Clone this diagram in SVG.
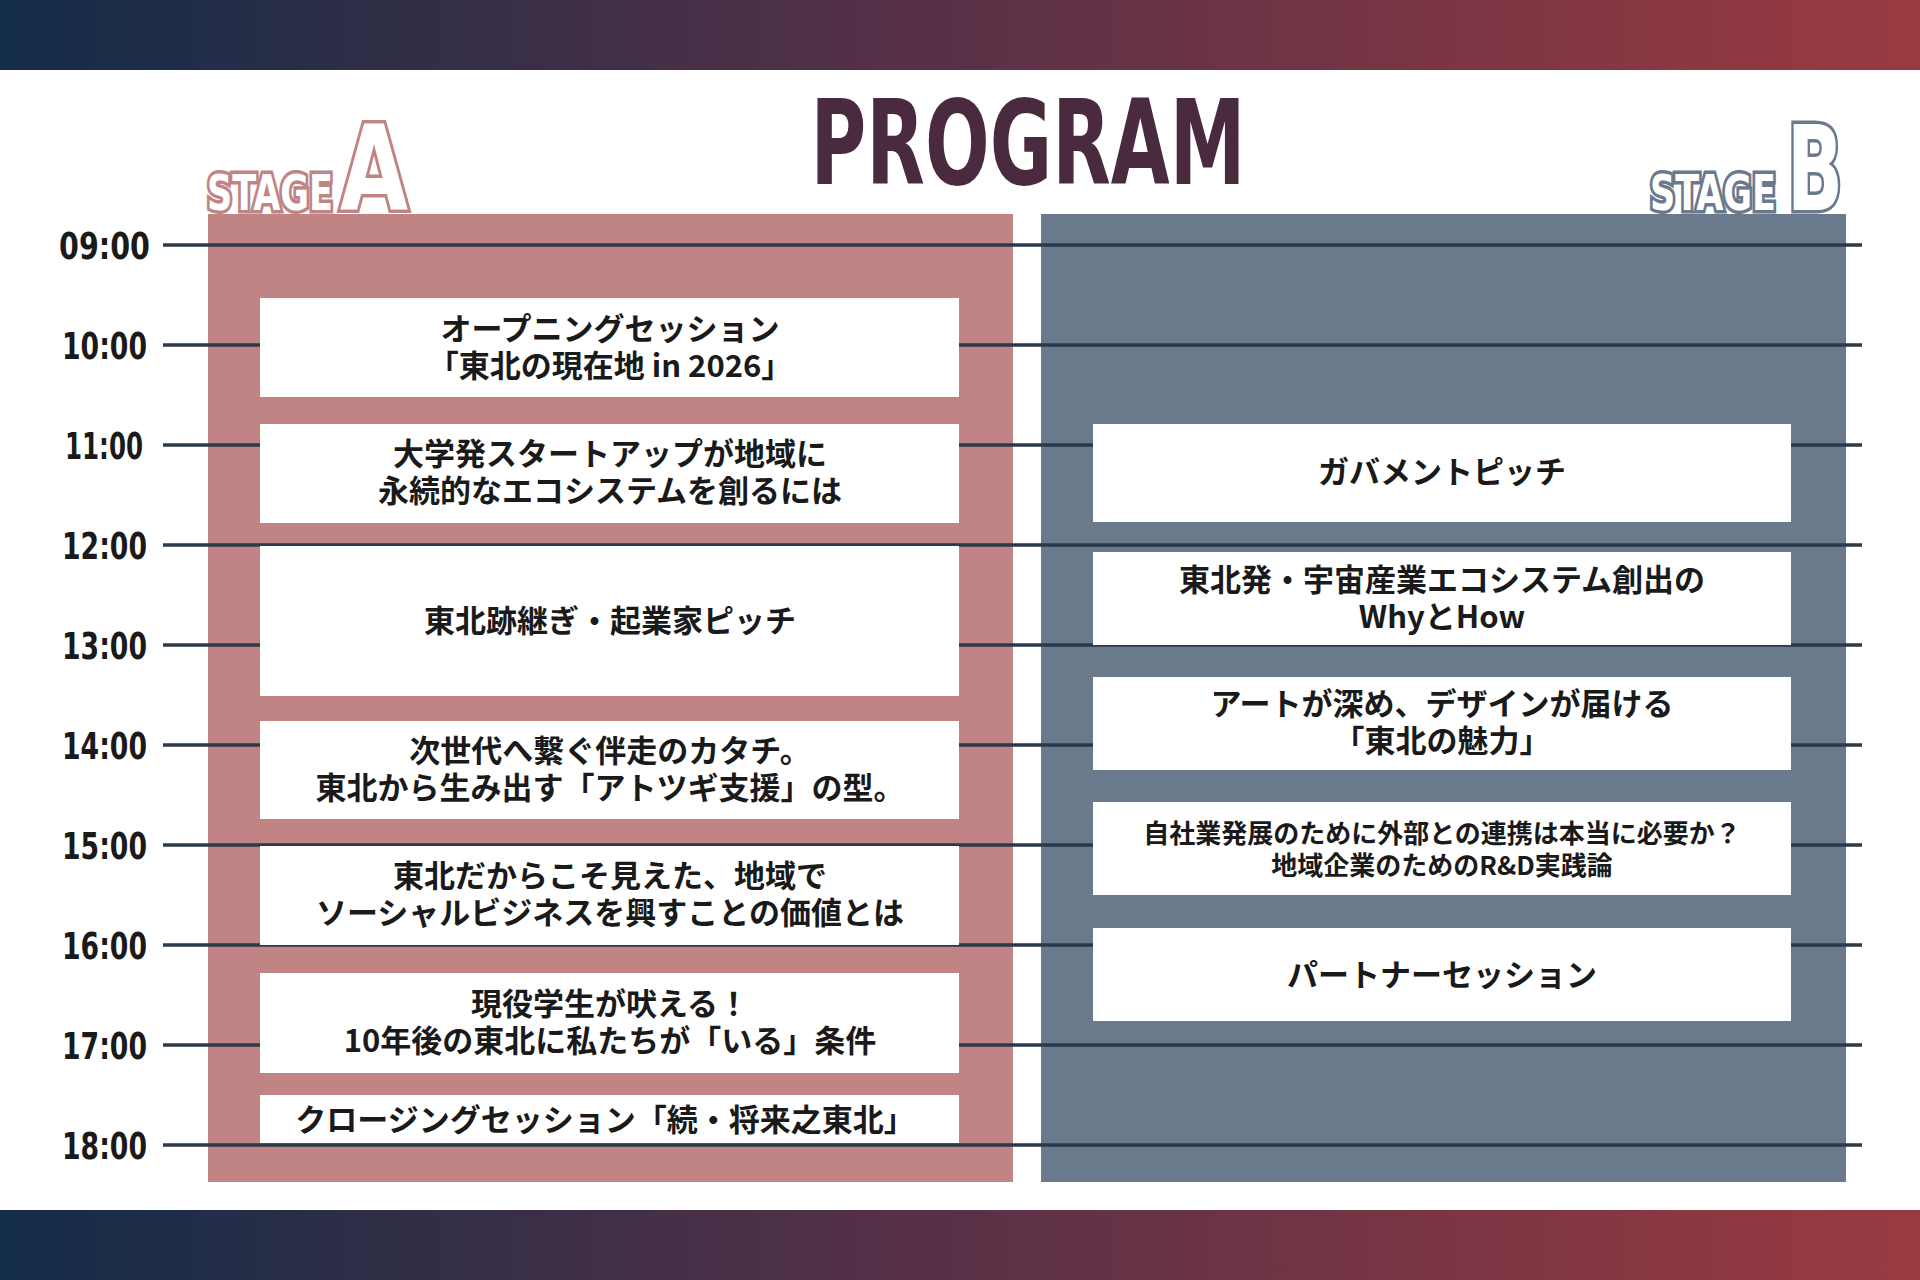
<svg xmlns="http://www.w3.org/2000/svg" width="1920" height="1280" viewBox="0 0 1920 1280">
<defs>
<linearGradient id="bar" x1="0" y1="0" x2="1" y2="0"><stop offset="0" stop-color="#132c47"/><stop offset="0.5" stop-color="#5a3147"/><stop offset="1" stop-color="#9a3a40"/></linearGradient>
<style>
.t{font-family:"DejaVu Sans Condensed","DejaVu Sans",sans-serif;font-weight:bold;font-size:38px;fill:#1a1a1a;text-anchor:end}
.ln{stroke:#2a3a4a;stroke-width:3.5}
.box{fill:#ffffff}
.lb{font-family:"Noto Sans CJK JP",sans-serif;font-weight:bold;font-size:31px;fill:#1a1a1a;text-anchor:middle}
.sm{font-size:26px}
.stA{font-family:"DejaVu Sans Condensed",sans-serif;font-weight:bold;fill:#fff;stroke:#c08484;stroke-width:7;paint-order:stroke}
.stB{font-family:"DejaVu Sans Condensed",sans-serif;font-weight:bold;fill:#fff;stroke:#6a7a8c;stroke-width:7;paint-order:stroke}
</style>
</defs>
<rect x="0" y="0" width="1920" height="70" fill="url(#bar)"/>
<rect x="0" y="1210" width="1920" height="70" fill="url(#bar)"/>
<text x="1028" y="184" text-anchor="middle" font-family="DejaVu Sans Condensed,sans-serif" font-weight="bold" font-size="118" fill="#4a2a3f" textLength="435" lengthAdjust="spacingAndGlyphs">PROGRAM</text>
<g id="stageA-title">
<text class="stA" x="207" y="210" font-size="50" textLength="126" lengthAdjust="spacingAndGlyphs">STAGE</text>
<text class="stA" x="340" y="210" font-size="118" textLength="68" lengthAdjust="spacingAndGlyphs">A</text>
</g>
<g id="stageB-title">
<text class="stB" x="1650" y="210" font-size="50" textLength="126" lengthAdjust="spacingAndGlyphs">STAGE</text>
<text class="stB" x="1787" y="210" font-size="118" textLength="56" lengthAdjust="spacingAndGlyphs">B</text>
</g>
<rect id="panelA" x="208" y="214" width="805" height="968" fill="#c08484"/>
<rect id="panelB" x="1041" y="214" width="805" height="968" fill="#6a7a8c"/>
<g id="timeline">
<line class="ln" x1="163" y1="245" x2="1862" y2="245"/><line class="ln" x1="163" y1="345" x2="1862" y2="345"/>
<line class="ln" x1="163" y1="445" x2="1862" y2="445"/><line class="ln" x1="163" y1="545" x2="1862" y2="545"/>
<line class="ln" x1="163" y1="645" x2="1862" y2="645"/><line class="ln" x1="163" y1="745" x2="1862" y2="745"/>
<line class="ln" x1="163" y1="845" x2="1862" y2="845"/><line class="ln" x1="163" y1="945" x2="1862" y2="945"/>
<line class="ln" x1="163" y1="1045" x2="1862" y2="1045"/><line class="ln" x1="163" y1="1145" x2="1862" y2="1145"/>
<text class="t" x="150" y="259" textLength="91" lengthAdjust="spacingAndGlyphs">09:00</text><text class="t" x="147" y="359" textLength="85" lengthAdjust="spacingAndGlyphs">10:00</text>
<text class="t" x="143" y="459" textLength="78" lengthAdjust="spacingAndGlyphs">11:00</text><text class="t" x="147" y="559" textLength="85" lengthAdjust="spacingAndGlyphs">12:00</text>
<text class="t" x="147" y="659" textLength="85" lengthAdjust="spacingAndGlyphs">13:00</text><text class="t" x="147" y="759" textLength="85" lengthAdjust="spacingAndGlyphs">14:00</text>
<text class="t" x="147" y="859" textLength="85" lengthAdjust="spacingAndGlyphs">15:00</text><text class="t" x="147" y="959" textLength="85" lengthAdjust="spacingAndGlyphs">16:00</text>
<text class="t" x="147" y="1059" textLength="85" lengthAdjust="spacingAndGlyphs">17:00</text><text class="t" x="147" y="1159" textLength="85" lengthAdjust="spacingAndGlyphs">18:00</text>
</g>
<g id="a1"><rect class="box" x="260" y="298" width="699" height="99"/><text class="lb" x="610" y="340">オープニングセッション</text><text class="lb" x="610" y="377">「東北の現在地 in 2026」</text></g>
<g id="a2"><rect class="box" x="260" y="424" width="699" height="99"/><text class="lb" x="610" y="465">大学発スタートアップが地域に</text><text class="lb" x="610" y="502">永続的なエコシステムを創るには</text></g>
<g id="a3"><rect class="box" x="260" y="546" width="699" height="150"/><text class="lb" x="610" y="632">東北跡継ぎ・起業家ピッチ</text></g>
<g id="a4"><rect class="box" x="260" y="721" width="699" height="98"/><text class="lb" x="610" y="762">次世代へ繋ぐ伴走のカタチ。</text><text class="lb" x="610" y="799">東北から生み出す「アトツギ支援」の型。</text></g>
<g id="a5"><rect class="box" x="260" y="846" width="699" height="99"/><text class="lb" x="610" y="887">東北だからこそ見えた、地域で</text><text class="lb" x="610" y="924">ソーシャルビジネスを興すことの価値とは</text></g>
<g id="a6"><rect class="box" x="260" y="973" width="699" height="100"/><text class="lb" x="610" y="1015">現役学生が吠える！</text><text class="lb" x="610" y="1052">10年後の東北に私たちが「いる」条件</text></g>
<g id="a7"><rect class="box" x="260" y="1095" width="699" height="48"/><text class="lb" x="605" y="1131">クロージングセッション「続・将来之東北」</text></g>
<g id="b1"><rect class="box" x="1093" y="424" width="698" height="98"/><text class="lb" x="1442" y="483">ガバメントピッチ</text></g>
<g id="b2"><rect class="box" x="1093" y="552" width="698" height="93"/><text class="lb" x="1442" y="591">東北発・宇宙産業エコシステム創出の</text><text class="lb" x="1442" y="628">WhyとHow</text></g>
<g id="b3"><rect class="box" x="1093" y="677" width="698" height="93"/><text class="lb" x="1442" y="715">アートが深め、デザインが届ける</text><text class="lb" x="1442" y="752">「東北の魅力」</text></g>
<g id="b4"><rect class="box" x="1093" y="802" width="698" height="93"/><text class="lb sm" x="1442" y="843">自社業発展のために外部との連携は本当に必要か？</text><text class="lb sm" x="1442" y="875">地域企業のためのR&amp;D実践論</text></g>
<g id="b5"><rect class="box" x="1093" y="928" width="698" height="93"/><text class="lb" x="1442" y="986">パートナーセッション</text></g>
</svg>
